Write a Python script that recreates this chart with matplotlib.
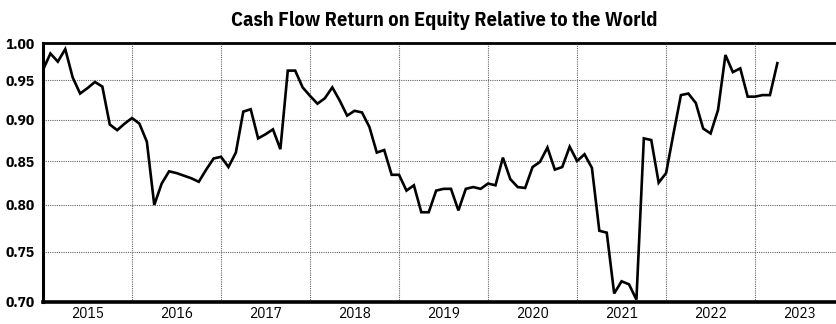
import numpy as np
import matplotlib
matplotlib.use("Agg")
import matplotlib.pyplot as plt
from matplotlib.ticker import FixedLocator, NullLocator, FixedFormatter

plt.rcParams['font.family'] = ['IBM Plex Sans Condensed', 'Liberation Sans Narrow', 'DejaVu Sans']

# monthly values, Jan 2015 .. Apr 2023
cfroe_rel = [
    0.964, 0.986, 0.975, 0.992, 0.954, 0.933, 0.940, 0.948, 0.942, 0.894, 0.887, 0.895,
    0.902, 0.895, 0.873, 0.800, 0.824, 0.838, 0.836, 0.833, 0.830, 0.826, 0.840, 0.853,
    0.855, 0.843, 0.860, 0.910, 0.913, 0.877, 0.882, 0.888, 0.864, 0.963, 0.963, 0.941,
    0.930, 0.920, 0.927, 0.941, 0.924, 0.905, 0.911, 0.909, 0.891, 0.860, 0.863, 0.834,
    0.834, 0.816, 0.822, 0.792, 0.792, 0.816, 0.818, 0.818, 0.794, 0.818, 0.820, 0.818,
    0.824, 0.822, 0.854, 0.829, 0.820, 0.819, 0.843, 0.849, 0.866, 0.840, 0.843, 0.867,
    0.850, 0.858, 0.842, 0.772, 0.770, 0.708, 0.720, 0.717, 0.702, 0.877, 0.875, 0.825,
    0.836, 0.883, 0.931, 0.933, 0.921, 0.889, 0.883, 0.912, 0.984, 0.961, 0.966, 0.929,
    0.929, 0.931, 0.931, 0.973,
]
start_year = 2015
years = list(range(2015, 2024))
y_ticks = [0.70, 0.75, 0.80, 0.85, 0.90, 0.95, 1.00]

t = start_year + np.arange(len(cfroe_rel)) / 12.0

fig = plt.figure(figsize=(8.37, 3.24), dpi=100)
ax = fig.add_axes([43 / 837, 1 - 301.7 / 324, 1 - 43 / 837, (301.7 - 43.3) / 324])

ax.plot(t, cfroe_rel, color='black', lw=1.9, solid_joinstyle='miter', zorder=3)

ax.set_yscale('log')
ax.set_ylim(0.70, 1.00)
ax.yaxis.set_major_locator(FixedLocator(y_ticks))
ax.yaxis.set_major_formatter(FixedFormatter([f'{v:.2f}' for v in y_ticks]))
ax.yaxis.set_minor_locator(NullLocator())

# gridlines on year boundaries, labels in the middle of each year
ax.set_xlim(2015, 2023.92)
ax.xaxis.set_major_locator(FixedLocator(years[1:]))
ax.xaxis.set_major_formatter(FixedFormatter([''] * len(years[1:])))
ax.xaxis.set_minor_locator(FixedLocator([y + 0.5 for y in years]))
ax.xaxis.set_minor_formatter(FixedFormatter([str(y) for y in years]))

ax.tick_params(axis='both', which='both', length=0)
ax.tick_params(axis='y', pad=6, labelsize=11)
ax.tick_params(axis='x', which='minor', pad=4, labelsize=11)
for lbl in ax.get_yticklabels():
    lbl.set_fontweight('bold')

ax.grid(True, which='major', color='#666666', linestyle=(0, (1, 1)), lw=0.8)

ax.spines['right'].set_visible(False)
ax.spines['left'].set_linewidth(2.2)
ax.spines['top'].set_linewidth(2.0)
ax.spines['bottom'].set_linewidth(2.6)

fig.text(444 / 837, 1 - 21 / 324, 'Cash Flow Return on Equity Relative to the World',
         ha='center', va='center', fontsize=14.7, fontweight='bold')

fig.savefig('out.png', dpi=100)
